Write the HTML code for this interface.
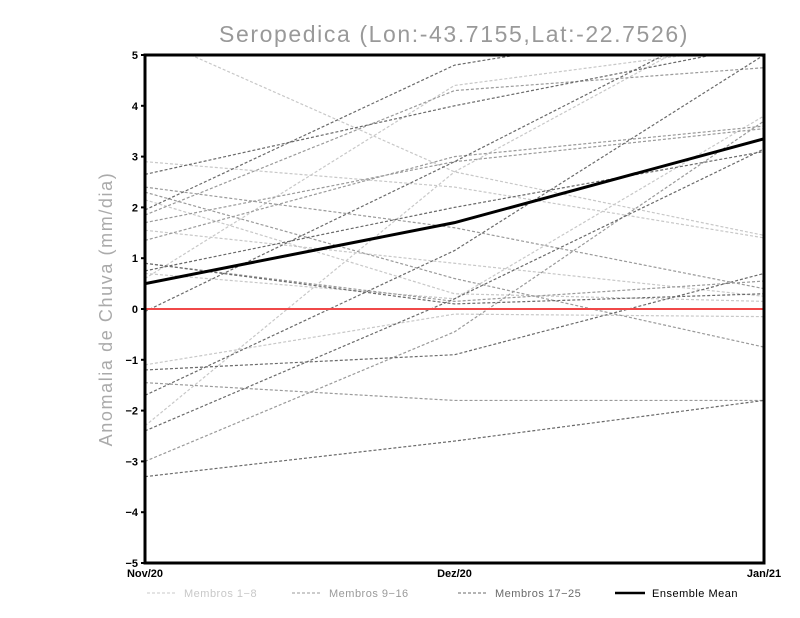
<!DOCTYPE html>
<html><head><meta charset="utf-8"><style>
body{margin:0;background:#fff;}
svg{display:block;font-family:"Liberation Sans",sans-serif;}
</style></head><body>
<svg width="800" height="618" viewBox="0 0 800 618">
<defs><clipPath id="pc"><rect x="145" y="55" width="619" height="508"/></clipPath></defs>
<rect width="800" height="618" fill="#fff"/>
<text x="454" y="42" text-anchor="middle" font-size="23" letter-spacing="1.6" fill="#999">Seropedica (Lon:-43.7155,Lat:-22.7526)</text>
<text transform="translate(112,309) rotate(-90)" text-anchor="middle" font-size="18" letter-spacing="1.6" fill="#aaa">Anomalia de Chuva (mm/dia)</text>
<g id="ticks"></g>
<g id="series" clip-path="url(#pc)"></g>
<rect x="145" y="55" width="619" height="508" fill="none" stroke="#000" stroke-width="3"/>
<g id="legend"></g>
</svg>
<script>
const categories=["Nov/20","Dez/20","Jan/21"];
const yTicks=[-5,-4,-3,-2,-1,0,1,2,3,4,5];
const membersLight=[[5.4,2.7,1.45],[2.9,2.4,1.4],[2.15,0.3,0.15],[1.55,0.9,0.25],[-1.1,-0.1,-0.15],[-2.3,2.7,6],[0.6,4.4,5.2],[0.7,0.2,3.8]];
const membersMid=[[2.4,1.6,0.4],[1.85,4.3,4.75],[1.7,2.9,3.55],[2.3,0.6,-0.75],[-1.45,-1.8,-1.8],[-3.0,-0.45,3.7],[1.35,3.0,3.6],[0.9,0.15,0.55]];
const membersDark=[[2.65,4.0,5.2],[1.95,4.8,5.8],[0.75,2.0,3.1],[-0.05,2.9,6],[-1.2,-0.9,0.7],[-1.7,1.15,5],[-2.4,0.2,3.15],[-3.3,-2.6,-1.8],[0.9,0.1,0.3]];
const ensembleMean=[0.5,1.7,3.35];
const NS="http://www.w3.org/2000/svg";
const X0=145,X1=764,Y0=563,Y1=55;
function xs(i){return X0+(X1-X0)*i/(categories.length-1);}
function ys(v){return Y0-(v+5)/10*(Y0-Y1);}
function mk(t,a,p){const e=document.createElementNS(NS,t);for(const k in a)e.setAttribute(k,a[k]);p.appendChild(e);return e;}
const tk=document.getElementById('ticks');
yTicks.forEach(v=>{
 const t=mk('text',{x:138,y:ys(v)+4,'text-anchor':'end','font-size':11,'font-weight':'bold'},tk);
 t.textContent=v<0?'−'+(-v):String(v);
 
 
 mk('line',{x1:141,x2:145,y1:ys(v),y2:ys(v),stroke:'#000','stroke-width':2},tk);
});
categories.forEach((c,i)=>{
 const t=mk('text',{x:xs(i),y:577,'text-anchor':'middle','font-size':11,'font-weight':'bold'},tk);
 t.textContent=c;
 
 
});
const sg=document.getElementById('series');
function pts(a){return a.map((v,i)=>xs(i)+','+ys(v)).join(' ');}
[[membersLight,'#c8c8c8'],[membersMid,'#9a9a9a'],[membersDark,'#6a6a6a']].forEach(([arr,col])=>{
 arr.forEach(m=>{
  const l=mk('polyline',{points:pts(m),fill:'none',stroke:col,'stroke-width':1.2,'stroke-dasharray':'3,2'},sg);
  
  
 });
});
const z=mk('line',{x1:X0,x2:X1,y1:ys(0),y2:ys(0),stroke:'#f04848','stroke-width':2},sg);


const em=mk('polyline',{points:pts(ensembleMean),fill:'none',stroke:'#000','stroke-width':3},sg);


const lg=document.getElementById('legend');
const legendItems=[["Membros 1-8",'#c8c8c8',147,'3,2',1],["Membros 9-16",'#9a9a9a',292,'3,2',1],["Membros 17-25",'#6a6a6a',458,'3,2',1],["Ensemble Mean",'#000',615,'',2.5]];
legendItems.forEach(([lab,col,x,d,w])=>{
 const g=mk('g',{},lg);
 
 
 mk('line',{x1:x,x2:x+30,y1:593,y2:593,stroke:col,'stroke-width':w,'stroke-dasharray':d},g);
 const t=mk('text',{x:x+37,y:597,'font-size':11,'letter-spacing':0.5,fill:col==='#000'?'#000':col},g);
 t.textContent=lab.replace('-','−');
});
</script>
</body></html>
